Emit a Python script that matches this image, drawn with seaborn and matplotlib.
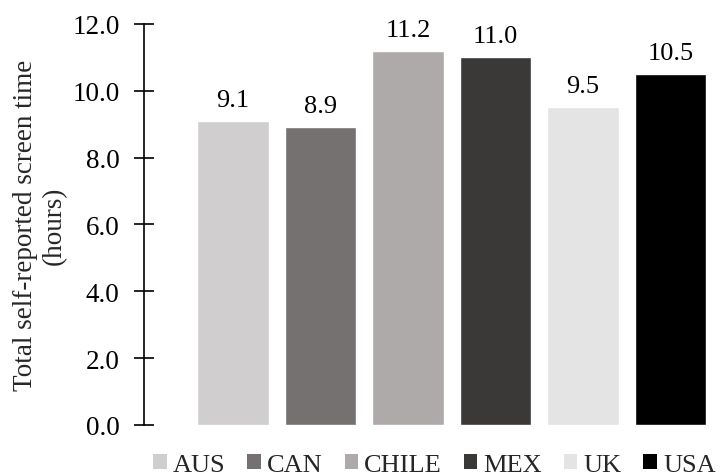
import matplotlib
matplotlib.use("Agg")
import matplotlib.pyplot as plt
import seaborn as sns
import pandas as pd
from matplotlib.patches import Patch

countries = ["AUS", "CAN", "CHILE", "MEX", "UK", "USA"]
screen_hours = [9.1, 8.9, 11.2, 11.0, 9.5, 10.5]
bar_colors = ["#d0cece", "#767171", "#aeaaaa", "#3b3838", "#e4e4e4", "#000000"]
y_ticks = [0, 2, 4, 6, 8, 10, 12]

sns.set_theme(style="white")
plt.rcParams["font.family"] = ["Liberation Serif", "DejaVu Serif"]

df = pd.DataFrame({"country": countries, "hours": screen_hours})

fig = plt.figure(figsize=(7.23, 4.77), dpi=100)
ax = fig.add_axes([0.199, 0.107, 0.801, 0.841])

sns.barplot(data=df, x="country", y="hours", hue="country",
            palette=dict(zip(countries, bar_colors)), width=0.82,
            dodge=False, legend=False, ax=ax, saturation=1)

for patch, val in zip(ax.patches, screen_hours):
    ax.text(patch.get_x() + patch.get_width() / 2, val + 0.3, f"{val:.1f}",
            ha="center", va="bottom", fontsize=19, color="#000000")

ax.set_ylim(0, 12)
ax.set_xlim(-1.02, 5.6)
ax.set_yticks(y_ticks)
ax.set_yticklabels([f"{t:.1f}" for t in y_ticks], fontsize=19.5)
ax.set_xticks([])
ax.set_xlabel("")
ax.set_ylabel("Total self-reported screen time\n(hours)", fontsize=19.5,
              linespacing=1.2, labelpad=4)
ax.tick_params(axis="y", direction="inout", length=15, width=1.2,
               left=True, pad=10, colors="#000000")
for side in ["top", "right", "bottom"]:
    ax.spines[side].set_visible(False)
ax.spines["left"].set_color("#000000")
ax.spines["left"].set_linewidth(1.2)

handles = [Patch(facecolor=c, edgecolor="none") for c in bar_colors]
fig.legend(handles, countries, loc="lower center", bbox_to_anchor=(0.601, -0.027),
           ncol=6, frameon=False, fontsize=19, handlelength=0.52, handleheight=0.52,
           handletextpad=0.23, columnspacing=0.82, borderpad=0)

fig.savefig("out.png", dpi=100)
